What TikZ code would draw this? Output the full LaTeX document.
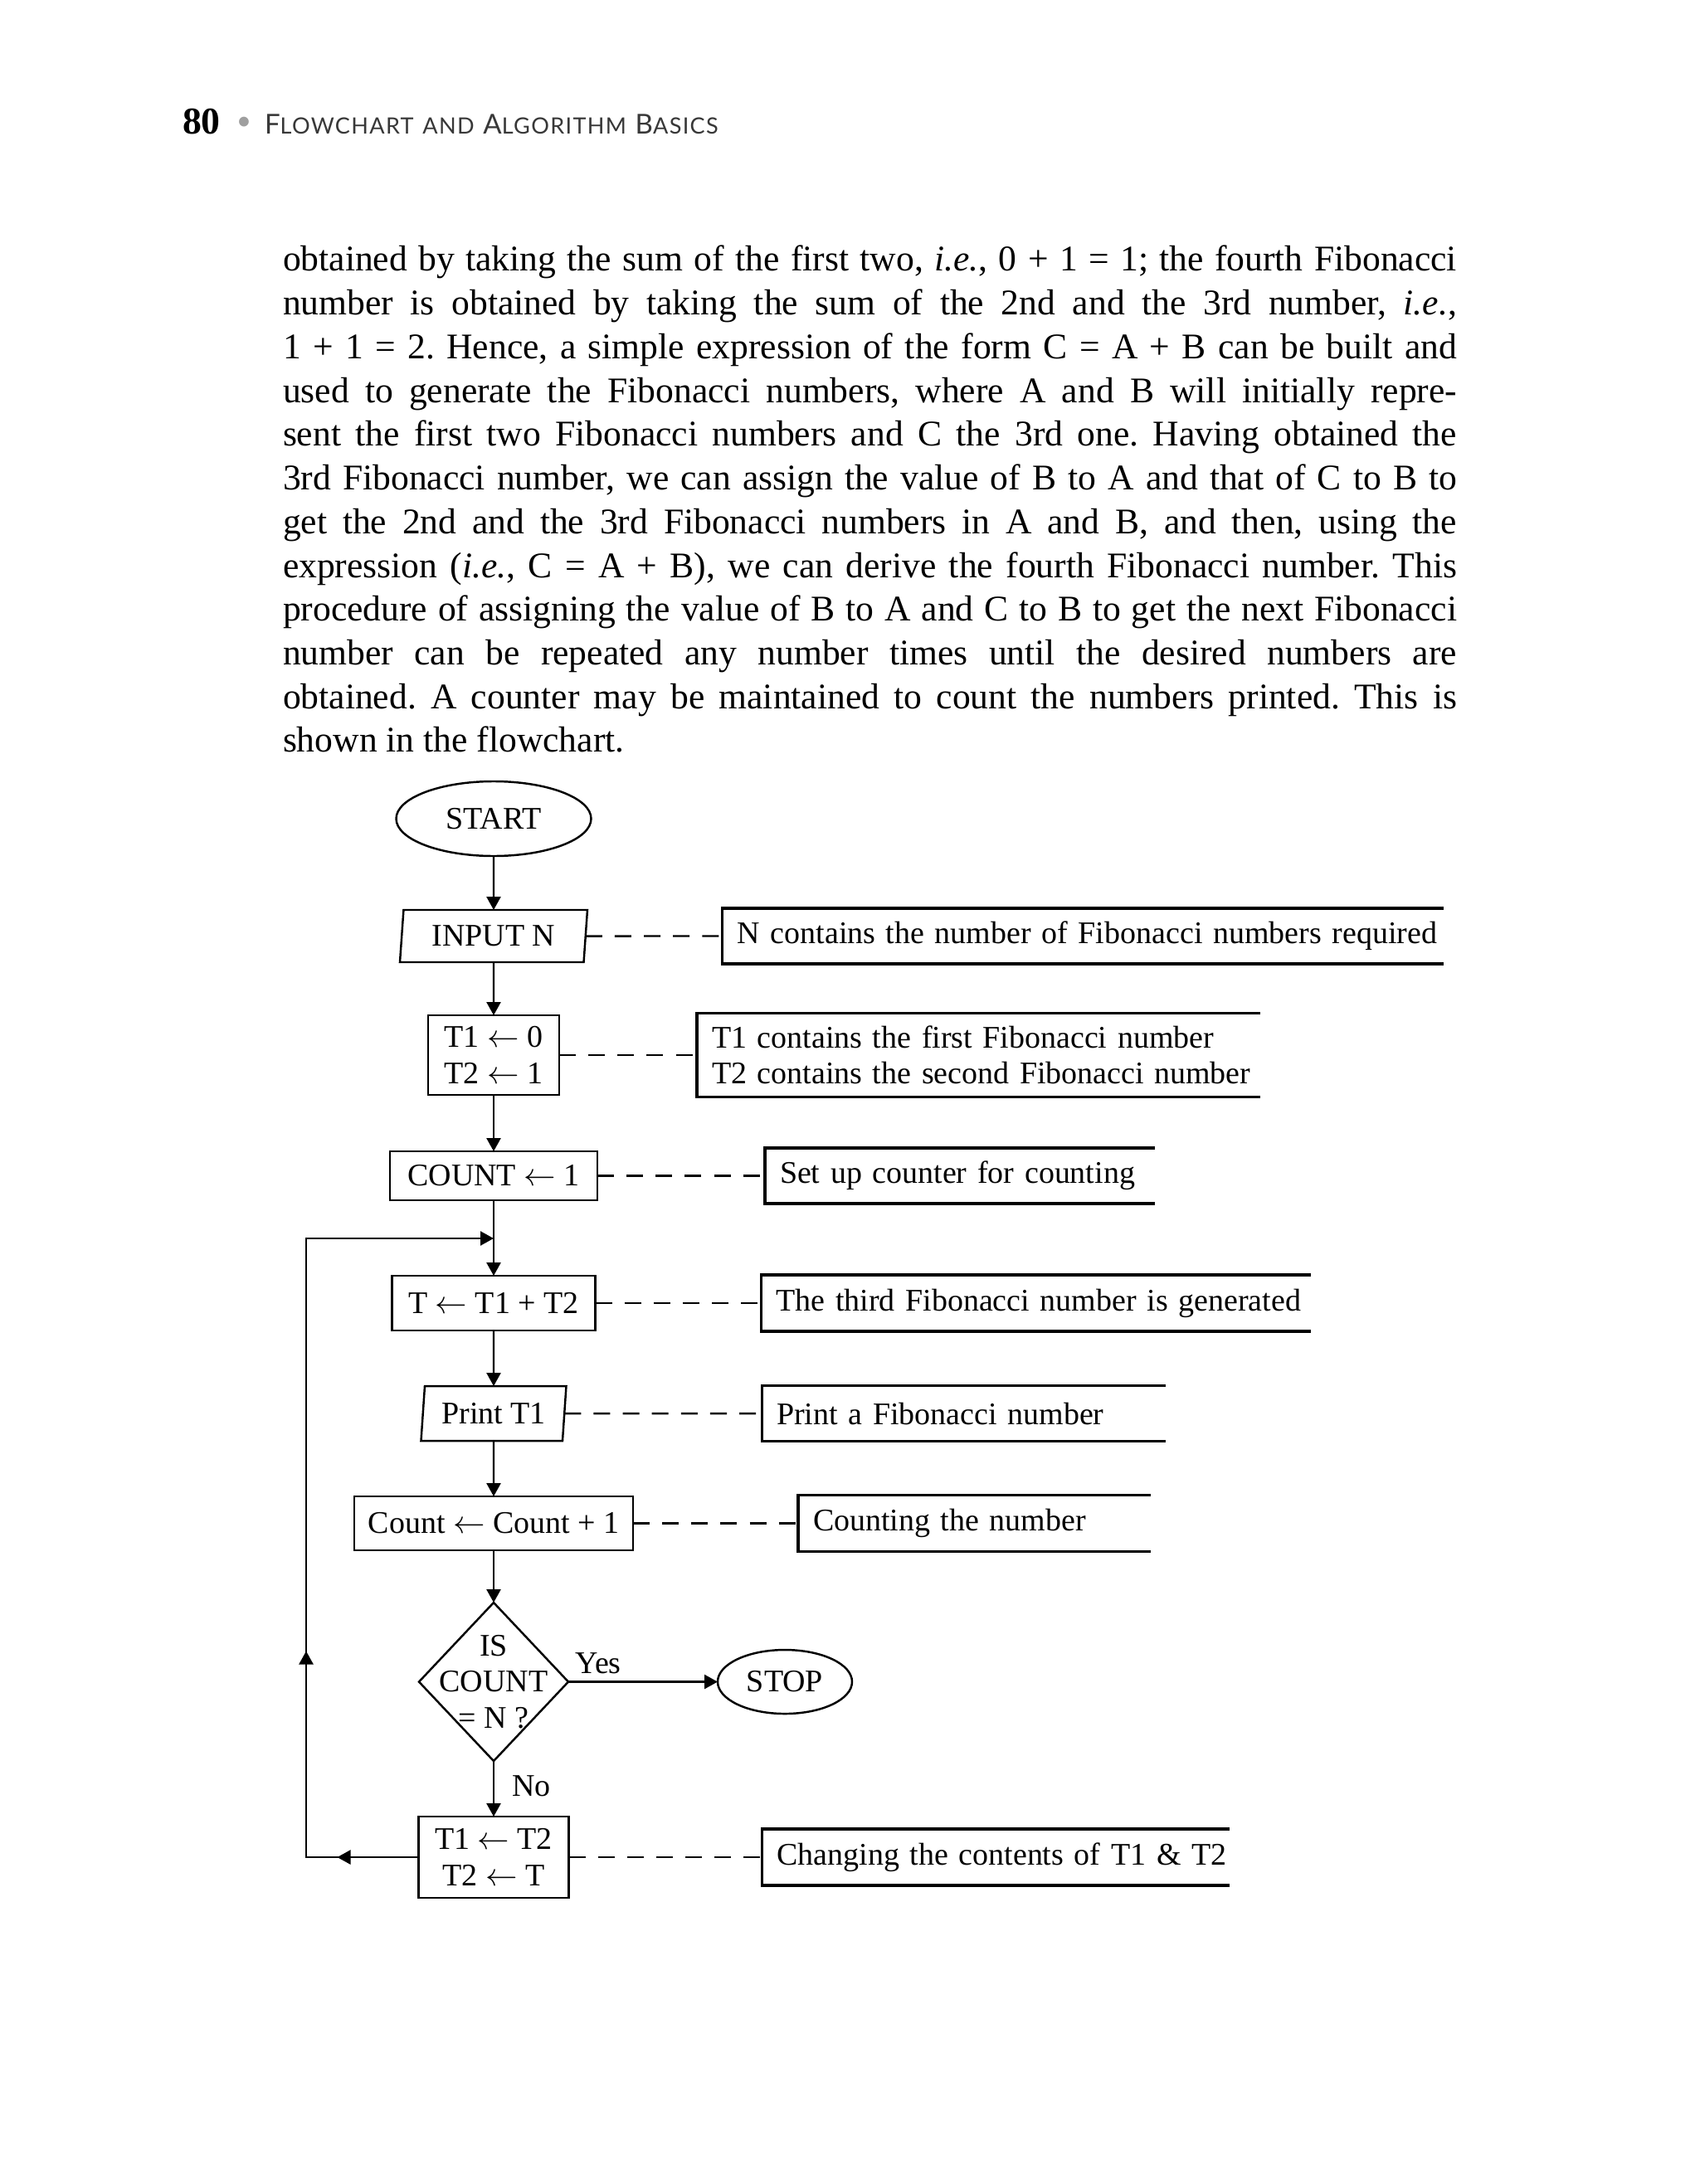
\documentclass[tikz,border=0pt]{standalone}
\usepackage{fontspec}
\setmainfont{Liberation Serif}
\newfontfamily\headfont{Lato}
\usepackage{xcolor}
\usetikzlibrary{shapes.geometric, arrows.meta, positioning, decorations.markings}

\definecolor{headgray}{gray}{0.22}
% fake small caps for the running head
\newcommand{\fakesc}[2]{{\fontsize{9.4}{10}\selectfont #1}{\fontsize{7.7}{9}\selectfont #2}}

\begin{document}
\begin{tikzpicture}[
  font=\fontsize{10.8}{12.4}\selectfont,
  proc/.style={rectangle, draw=black, line width=0.7pt, align=center, inner sep=0pt, outer sep=0pt},
  io/.style={trapezium, trapezium left angle=80, trapezium right angle=100,
             trapezium stretches body, draw=black, line width=0.7pt, inner sep=0pt, outer sep=0pt},
  term/.style={ellipse, draw=black, line width=0.7pt, inner sep=0pt, outer sep=0pt},
  note/.style={rectangle, inner sep=0pt, outer sep=0pt, align=left,
               execute at begin node={\leftskip=0.18cm\hyphenpenalty=10000}},
  lbl/.style={inner sep=0pt, outer sep=0pt},
  arr/.style={-{Triangle[length=1.6mm, width=1.7mm]}, line width=0.7pt},
  dashline/.style={dash pattern=on 5.7pt off 4.3pt, line width=0.7pt},
  loopline/.style={arr, postaction={decorate},
    decoration={markings,
      mark=at position 0.98cm with {\arrow{Triangle[length=1.6mm, width=1.7mm]}},
      mark=at position 3.84cm with {\arrow{Triangle[length=1.6mm, width=1.7mm]}}}}
]
\useasboundingbox (0,0) rectangle (20.48,-26.33);

% running head
\node[anchor=base west, lbl, font=\fontsize{13}{14}\selectfont\bfseries] (pgnum) at (2.20,-1.62) {80};
\node[anchor=center, lbl, text=gray!75, font=\headfont\fontsize{9}{10}\selectfont] (dot) at (2.94,-1.49) {•};
\node[anchor=base west, lbl, text=headgray, font=\headfont\addfontfeature{LetterSpace=5}] (runhead) at (3.19,-1.62)
  {\fakesc{F}{LOWCHART} \fakesc{}{AND} \fakesc{A}{LGORITHM} \fakesc{B}{ASICS}};

% text above the chart
\node[anchor=base west, lbl, text width=14.15cm, align=justify,
      font=\fontsize{12.4}{15}\selectfont] (para) at (3.41,-3.27)
{\hyphenpenalty=10000 \tolerance=10000 \frenchspacing
obtained by taking the sum of the first two, \textit{i.e.}, 0 + 1 = 1; the fourth Fibonacci\linebreak
number is obtained by taking the sum of the 2nd and the 3rd number, \textit{i.e.},\linebreak
1 + 1 = 2. Hence, a simple expression of the form C = A + B can be built and\linebreak
used to generate the Fibonacci numbers, where A and B will initially repre-\linebreak
sent the first two Fibonacci numbers and C the 3rd one. Having obtained the\linebreak
3rd Fibonacci number, we can assign the value of B to A and that of C to B to\linebreak
get the 2nd and the 3rd Fibonacci numbers in A and B, and then, using the\linebreak
expression (\textit{i.e.}, C = A + B), we can derive the fourth Fibonacci number. This\linebreak
procedure of assigning the value of B to A and C to B to get the next Fibonacci\linebreak
number can be repeated any number times until the desired numbers are\linebreak
obtained. A counter may be maintained to count the numbers printed. This is\linebreak
shown in the flowchart.};

% main column
\node[term, minimum width=2.35cm, minimum height=0.90cm] (start) at (5.95,-9.87) {START};
\node[io, minimum width=2.26cm, minimum height=0.63cm, below=0.65cm of start] (input) {INPUT N};
\node[proc, minimum width=1.58cm, minimum height=0.96cm, below=0.64cm of input] (init) {T1 $\leftarrow$ 0\\T2 $\leftarrow$ 1};
\node[proc, minimum width=2.50cm, minimum height=0.59cm, below=0.68cm of init] (cntset) {COUNT $\leftarrow$ 1};
\node[proc, minimum width=2.45cm, minimum height=0.66cm, below=0.91cm of cntset] (tsum) {T $\leftarrow$ T1 + T2};
\node[io, minimum width=1.75cm, minimum height=0.66cm, below=0.67cm of tsum] (print) {Print T1};
\node[proc, minimum width=3.36cm, minimum height=0.65cm, below=0.67cm of print] (cntinc) {Count $\leftarrow$ Count + 1};
\node[lbl, align=center, minimum width=1.80cm, minimum height=1.91cm, below=0.63cm of cntinc] (test) {IS\\COUNT\\= N ?};
\draw[line width=0.7pt] (test.north) -- (test.east) -- (test.south) -- (test.west) -- cycle;
\node[proc, minimum width=1.81cm, minimum height=0.98cm, below=0.67cm of test] (swap) {T1 $\leftarrow$ T2\\T2 $\leftarrow$ T};
\node[term, minimum width=1.62cm, minimum height=0.77cm, right=1.80cm of test] (stop) {STOP};

% comments
\node[note, text width=8.69cm, minimum height=0.67cm, right=1.65cm of input] (n1) {N contains the number of Fibonacci numbers required};
\node[note, text width=6.79cm, minimum height=1.01cm, right=1.66cm of init] (n2) {T1 contains the first Fibonacci number\\T2 contains the second Fibonacci number};
\node[note, text width=4.70cm, minimum height=0.67cm, right=2.02cm of cntset] (n3) {Set up counter for counting};
\node[note, text width=6.62cm, minimum height=0.68cm, right=2.00cm of tsum] (n4) {The third Fibonacci number is generated};
\node[note, text width=4.87cm, minimum height=0.67cm, right=2.38cm of print] (n5) {Print a Fibonacci number};
\node[note, text width=4.25cm, minimum height=0.68cm, right=1.99cm of cntinc] (n6) {Counting the number};
\node[note, text width=5.63cm, minimum height=0.68cm, right=2.33cm of swap] (n7) {Changing the contents of T1 \& T2};

\foreach \n in {n1,n2,n3,n4,n5,n6,n7}
  \draw[line width=0.9pt] (\n.north east) -- (\n.north west) -- (\n.south west) -- (\n.south east);

% flow
\draw[arr] (start) -- (input);
\draw[arr] (input) -- (init);
\draw[arr] (init) -- (cntset);
\draw[arr] (cntset) -- (tsum);
\draw[arr] (tsum) -- (print);
\draw[arr] (print) -- (cntinc);
\draw[arr] (cntinc) -- (test);
\draw[arr] (test) -- node[lbl, pos=0.45, right=0.22cm] {No} (swap);
\draw[arr] (test) -- node[lbl, pos=0.2, above=0.1cm] {Yes} (stop);

% loop back
\coordinate (loopbot) at (3.69,0 |- swap.west);
\coordinate (looptop) at (3.69,-14.93);
\coordinate (join) at (start |- looptop);
\draw[loopline] (swap.west) -- (loopbot) -- (looptop) -- (join);

% dashed links to the comments
\draw[dashline] (input) -- (n1);
\draw[dashline] (init) -- (n2);
\draw[dashline] (cntset) -- (n3);
\draw[dashline] (tsum) -- (n4);
\draw[dashline] (print) -- (n5);
\draw[dashline] (cntinc) -- (n6);
\draw[dashline] (swap) -- (n7);

\end{tikzpicture}
\end{document}
